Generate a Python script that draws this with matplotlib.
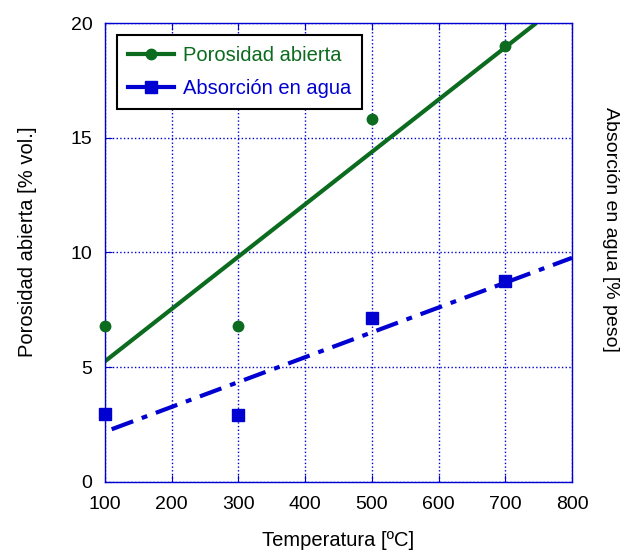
import numpy as np
import matplotlib.pyplot as plt
from matplotlib.lines import Line2D

plt.rcParams['font.family'] = ['Liberation Sans', 'DejaVu Sans']

temperatura = [100, 300, 500, 700]
porosidad = [6.8, 6.8, 15.8, 19.0]
absorcion = [2.95, 2.9, 7.15, 8.75]

verde = '#0b6b1e'
azul = '#0000d0'

fig = plt.figure(figsize=(6.32, 5.51), dpi=100)
ax = fig.add_axes([105/632, 69/551, 467/632, 459/551])

# ajustes lineales
p_por = np.polyfit(temperatura, porosidad, 1)
p_abs = np.polyfit(temperatura, absorcion, 1)
x_end = (20 - p_por[1]) / p_por[0]
xg = np.array([100, x_end])
xb = np.array([110, 800])
ax.plot(xg, np.polyval(p_por, xg), color=verde, lw=3, solid_capstyle='butt')
ax.plot(xb, np.polyval(p_abs, xb), color=azul, lw=3, dashes=(5.5, 2.2, 1.4, 2.2))

ax.plot(temperatura, porosidad, 'o', color=verde, ms=7.5, clip_on=False, zorder=5)
ax.plot(temperatura, absorcion, 's', color=azul, ms=9, clip_on=False, zorder=5)

ax.set_xlim(100, 800)
ax.set_ylim(0, 20)
ax.set_xticks(range(100, 801, 100))
ax.set_yticks([0, 5, 10, 15, 20])
ax.grid(True, color=azul, linestyle=':', lw=1)
ax.tick_params(direction='in', labelsize=14, length=5, color=azul, top=True, right=True)
ax.tick_params(axis='x', pad=10)
ax.tick_params(axis='y', pad=9)
for s in ax.spines.values():
    s.set_color(azul)
    s.set_linewidth(1)

ax.set_xlabel('Temperatura [ºC]', fontsize=14.5, labelpad=13)
ax.set_ylabel('Porosidad abierta [% vol.]', fontsize=14.5)
ax.yaxis.set_label_coords(-0.146, 0.523)
ax2 = ax.twinx()
ax2.set_ylim(0, 20)
ax2.set_yticks([])
ax2.set_ylabel('Absorción en agua [% peso]', fontsize=14, rotation=270)
ax2.yaxis.set_label_coords(1.101, 0.551)
for s in ax2.spines.values():
    s.set_visible(False)

handles = [Line2D([], [], color=verde, lw=3, marker='o', ms=7.5),
           Line2D([], [], color=azul, lw=3, marker='s', ms=9)]
leg = ax.legend(handles, ['Porosidad abierta', 'Absorción en agua'], loc='upper left',
                fontsize=14.5, fancybox=False, edgecolor='black', framealpha=1,
                borderaxespad=0.6, handlelength=2.3, handletextpad=0.4,
                labelspacing=0.7, borderpad=0.55)
leg.get_frame().set_linewidth(1.5)
leg.texts[0].set_color(verde)
leg.texts[1].set_color(azul)

fig.savefig('out.png', dpi=100)
